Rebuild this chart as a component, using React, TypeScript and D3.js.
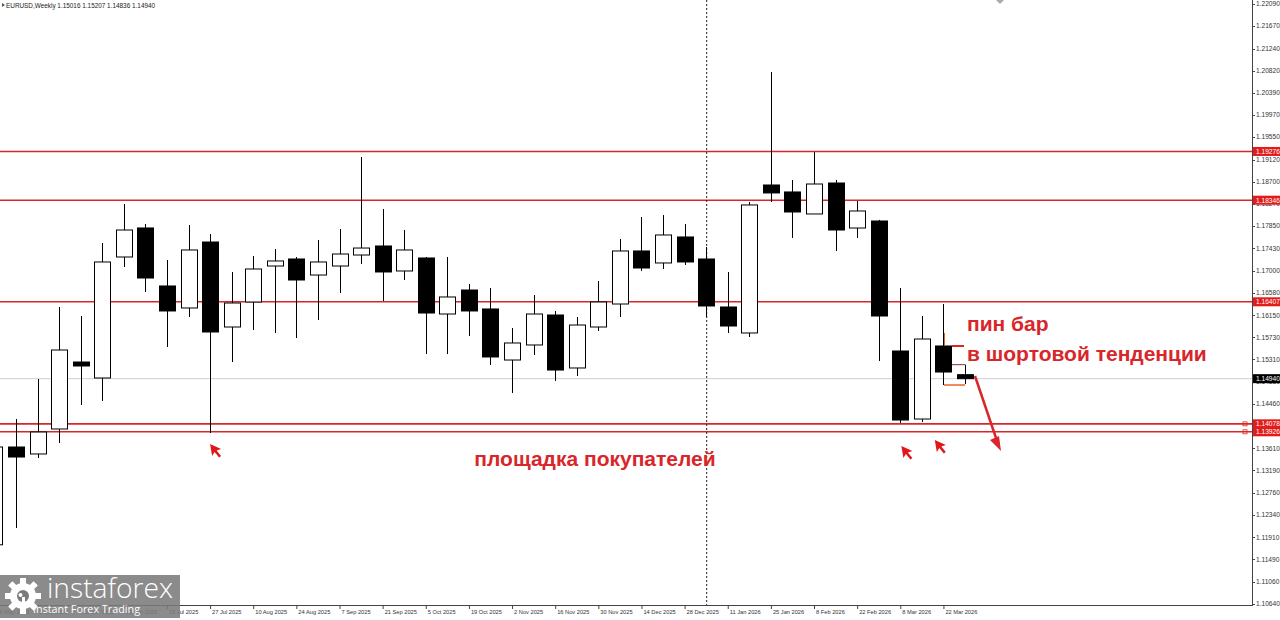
import React from "react";
import * as d3 from "d3";

// ---- data ----
const opens = [1.1177, 1.13636, 1.13503, 1.1398, 1.15258, 1.14953, 1.17262, 1.17816, 1.16709, 1.16289, 1.17548, 1.15926, 1.16403, 1.1709, 1.17224, 1.16918, 1.1709, 1.173, 1.17472, 1.16995, 1.17243, 1.16174, 1.16632, 1.1627, 1.15296, 1.15583, 1.16155, 1.15144, 1.15926, 1.16365, 1.17377, 1.17148, 1.17644, 1.17224, 1.16308, 1.15812, 1.18636, 1.18503, 1.18083, 1.18674, 1.17815, 1.17949, 1.15468, 1.1417, 1.15564, 1.15016];
const highs = [1.138, 1.14171, 1.14934, 1.16308, 1.16136, 1.17529, 1.18273, 1.17892, 1.17205, 1.17873, 1.17701, 1.16976, 1.17281, 1.17415, 1.17262, 1.17586, 1.17796, 1.1917, 1.18178, 1.17777, 1.17262, 1.17262, 1.16747, 1.1667, 1.15907, 1.16537, 1.16232, 1.16117, 1.16804, 1.17606, 1.18025, 1.18063, 1.17892, 1.17453, 1.16976, 1.18312, 1.20793, 1.18732, 1.19266, 1.18732, 1.18331, 1.1797, 1.1667, 1.16136, 1.16365, 1.15207];
const lows = [1.114, 1.1209, 1.13426, 1.13713, 1.14438, 1.14514, 1.17071, 1.16594, 1.15545, 1.16117, 1.13903, 1.15258, 1.15869, 1.15812, 1.15716, 1.1606, 1.16575, 1.17129, 1.16422, 1.16823, 1.15411, 1.15411, 1.15754, 1.15201, 1.14667, 1.15392, 1.14896, 1.14991, 1.1585, 1.16117, 1.16995, 1.17033, 1.1711, 1.16117, 1.15812, 1.15735, 1.18312, 1.17625, 1.18083, 1.17377, 1.17625, 1.15277, 1.14094, 1.14113, 1.14819, 1.14836];
const closes = [1.13636, 1.13445, 1.13922, 1.15487, 1.15182, 1.17167, 1.17777, 1.16861, 1.16232, 1.17396, 1.15831, 1.16384, 1.17033, 1.17186, 1.16823, 1.17167, 1.17319, 1.17433, 1.16976, 1.17396, 1.16193, 1.16499, 1.16232, 1.15354, 1.15621, 1.16174, 1.15105, 1.15964, 1.16403, 1.17377, 1.17052, 1.17682, 1.17167, 1.16327, 1.15945, 1.18255, 1.18484, 1.18121, 1.18655, 1.17777, 1.1814, 1.16136, 1.14151, 1.15697, 1.15067, 1.1494];

const dateLabels = ["18 May 2025", "1 Jun 2025", "15 Jun 2025", "29 Jun 2025", "13 Jul 2025", "27 Jul 2025", "10 Aug 2025", "24 Aug 2025", "7 Sep 2025", "21 Sep 2025", "5 Oct 2025", "19 Oct 2025", "2 Nov 2025", "16 Nov 2025", "30 Nov 2025", "14 Dec 2025", "28 Dec 2025", "11 Jan 2026", "25 Jan 2026", "8 Feb 2026", "22 Feb 2026", "8 Mar 2026", "22 Mar 2026"];
const dateLabelIndex = [0, 2, 4, 6, 8, 10, 12, 14, 16, 18, 20, 22, 24, 26, 28, 30, 32, 34, 36, 38, 40, 42, 44];

const priceTicks = ["1.22090", "1.21670", "1.21240", "1.20820", "1.20390", "1.19970", "1.19550", "1.19120", "1.18700", "1.18270", "1.17850", "1.17430", "1.17000", "1.16580", "1.16150", "1.15730", "1.15310", "1.14880", "1.14460", "1.14030", "1.13610", "1.13190", "1.12760", "1.12340", "1.11910", "1.11490", "1.11060", "1.10640"];

const levels = [1.19276, 1.18346, 1.16407, 1.14078, 1.13926];
const levelLabels = ["1.19276", "1.18346", "1.16407", "1.14078", "1.13926"];
const lastPrice = 1.1494;
const separatorIndex = 33;
const buyerArrowIndex = [10, 42.05, 43.6];
const buyerArrowPrice = [1.13693, 1.13655, 1.1377];

const W = 1280;
const H = 620;
const AXIS_X = 1252;
const AXIS_Y = 605;
const RED = "#d8262a";

export default function App() {
  const x = d3.scaleLinear().domain([0, 45]).range([-5.6, 965]);
  const y = d3.scaleLinear().domain([1.1064, 1.2209]).range([604, 4]);
  const half = 8;
  const tickPrices = priceTicks.map((t) => +t);
  const font = "'Liberation Sans', Arial, sans-serif";

  const cursor = "M0,0 L11,5 L6.5,6.5 L11,12 L9,13.5 L4.5,8 L2,12 Z";
  const teeth = d3.range(8).map((k) => k * 45);

  return (
    <div style={{ position: "absolute", left: 0, top: 0, width: W, height: H, background: "#fff" }}>
      <svg width={W} height={H} style={{ display: "block" }} fontFamily={font}>
        <rect x={0} y={0} width={W} height={H} fill="#fff" />
        {/* current price line */}
        <line x1={0} x2={AXIS_X} y1={y(lastPrice)} y2={y(lastPrice)} stroke="#cfcfcf" strokeWidth={1} />
        {/* level lines */}
        {levels.map((l, i) => (
          <line key={"lv" + i} x1={0} x2={AXIS_X} y1={y(l)} y2={y(l)} stroke={RED} strokeWidth={1.6} />
        ))}
        {/* separator */}
        <line x1={x(separatorIndex) + 0.5} x2={x(separatorIndex) + 0.5} y1={0} y2={AXIS_Y} stroke="#222" strokeWidth={1} strokeDasharray="2,2" />
        {/* candles */}
        {opens.map((o, i) => {
          const c = closes[i];
          const cx = Math.round(x(i)) + 0.5;
          const top = y(Math.max(o, c));
          const bot = y(Math.min(o, c));
          const bull = c >= o;
          return (
            <g key={"c" + i}>
              <line x1={cx} x2={cx} y1={y(highs[i])} y2={y(lows[i])} stroke="#000" strokeWidth={1} />
              <rect
                x={cx - half}
                y={top}
                width={half * 2}
                height={Math.max(bot - top, 1.5)}
                fill={bull ? "#fff" : "#000"}
                stroke="#000"
                strokeWidth={1}
              />
            </g>
          );
        })}
        {/* pin-bar annotation marks */}
        <line x1={952} x2={964} y1={y(1.15564)} y2={y(1.15564)} stroke={RED} strokeWidth={2} />
        <line x1={952} x2={965} y1={y(1.15207)} y2={y(1.15207)} stroke="#7a3a3a" strokeWidth={1} />
        <line x1={944} x2={965} y1={y(1.14819)} y2={y(1.14819)} stroke="#e8632a" strokeWidth={1.5} />
        <line x1={944.5} x2={944.5} y1={333} y2={345} stroke="#e8632a" strokeWidth={1} />

        {/* axes */}
        <line x1={AXIS_X + 0.5} x2={AXIS_X + 0.5} y1={0} y2={AXIS_Y} stroke="#444" strokeWidth={1} />
        <line x1={0} x2={AXIS_X + 1} y1={AXIS_Y + 0.5} y2={AXIS_Y + 0.5} stroke="#444" strokeWidth={1} />
        {tickPrices.map((p, i) => (
          <g key={"pt" + i}>
            <line x1={AXIS_X} x2={AXIS_X + 3} y1={Math.round(y(p)) + 0.5} y2={Math.round(y(p)) + 0.5} stroke="#444" />
            <text x={AXIS_X + 4} y={y(p)} dy="0.35em" fontSize={6.6} fill="#333">
              {priceTicks[i]}
            </text>
          </g>
        ))}
        {levels.map((l, i) => (
          <g key={"ll" + i}>
            <rect x={AXIS_X + 1} y={y(l) - 4.5} width={W - AXIS_X - 1} height={9} fill="#e21b1b" />
            <text x={AXIS_X + 4} y={y(l)} dy="0.35em" fontSize={6.6} fill="#fff">
              {levelLabels[i]}
            </text>
          </g>
        ))}
        <rect x={AXIS_X - 9} y={y(levels[3]) - 2} width={4} height={4} fill="none" stroke={RED} strokeWidth={0.8} />
        <rect x={AXIS_X - 9} y={y(levels[4]) - 2} width={4} height={4} fill="none" stroke={RED} strokeWidth={0.8} />
        <rect x={AXIS_X + 1} y={y(lastPrice) - 4.5} width={W - AXIS_X - 1} height={9} fill="#000" />
        <text x={AXIS_X + 4} y={y(lastPrice)} dy="0.35em" fontSize={6.6} fill="#fff">
          {lastPrice.toFixed(5)}
        </text>

        {/* date labels */}
        {dateLabels.map((d, k) => {
          const xi = x(dateLabelIndex[k]);
          return (
            <g key={"dl" + k}>
              <line x1={xi + 0.5} x2={xi + 0.5} y1={AXIS_Y} y2={AXIS_Y + 4} stroke="#444" />
              <text x={xi + 2} y={614} fontSize={5.7} fill="#333">
                {d}
              </text>
            </g>
          );
        })}

        {/* header */}
        <path d="M2,3 L5,5 L2,7 Z" fill="#555" />
        <text x={6} y={7.5} fontSize={6.4} fill="#222">
          EURUSD,Weekly  1.15016 1.15207 1.14836 1.14940
        </text>
        <path d="M996,0 L1004,0 L1000,4 Z" fill="#aaa" />

        {/* annotations */}
        <text x={595} y={466} fontSize={21} fontWeight="bold" fill={RED} textAnchor="middle">
          площадка покупателей
        </text>
        <text x={967} y={331} fontSize={21} fontWeight="bold" fill={RED}>
          пин бар
        </text>
        <text x={967} y={361} fontSize={21} fontWeight="bold" fill={RED}>
          в шортовой тенденции
        </text>
        <line x1={975} y1={376} x2={996} y2={438} stroke={RED} strokeWidth={2.5} />
        <path d="M1001,451 L990,440 L999,436 Z" fill={RED} />
        {buyerArrowIndex.map((idx, k) => (
          <path
            key={"ba" + k}
            d={cursor}
            transform={`translate(${x(idx)},${y(buyerArrowPrice[k])})`}
            fill="#e01818"
          />
        ))}

        {/* logo */}
        <rect x={0} y={575} width={180} height={43} fill="#7b7b7b" opacity={0.88} />
        <g transform="translate(23,596)">
          {teeth.map((a) => (
            <rect key={"t" + a} x={-3} y={-18} width={6} height={8} fill="#fff" transform={`rotate(${a})`} />
          ))}
          <circle r={13} fill="#fff" />
          <circle r={6} fill="#7b7b7b" />
          <circle cx={-2.5} cy={-1} r={2} fill="#fff" />
          <rect x={-1} y={1} width={3} height={9} fill="#fff" />
        </g>
        <text x={47} y={598} fontSize={28} fill="#fff" fontFamily="'Open Sans', sans-serif" fontWeight={300} textLength={126} lengthAdjust="spacingAndGlyphs">
          instaforex
        </text>
        <text x={33} y={613} fontSize={11.5} fill="#fff" fontFamily="'Open Sans', sans-serif" textLength={107} lengthAdjust="spacingAndGlyphs">
          Instant Forex Trading
        </text>
      </svg>
    </div>
  );
}
